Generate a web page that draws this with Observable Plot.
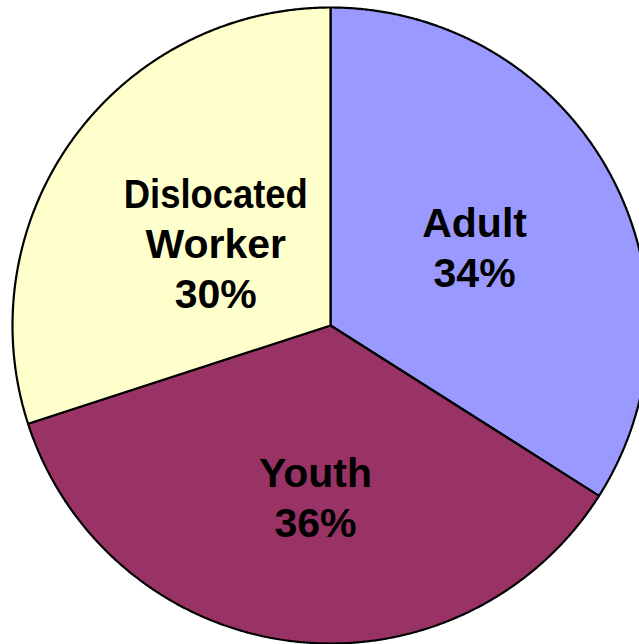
<!DOCTYPE html>
<html>
<head>
<meta charset="utf-8">
<script src="https://cdn.jsdelivr.net/npm/d3@7"></script>
<script src="https://cdn.jsdelivr.net/npm/@observablehq/plot@0.6"></script>
<style>
  html, body { margin: 0; padding: 0; background: #fff; }
  #chart svg { display: block; }
</style>
</head>
<body>
<div id="chart"></div>
<script>
// Data
const categories = ["Adult", "Youth", "Dislocated Worker"];
const labels = ["Adult", "Youth", "Dislocated\nWorker"];
const shares = [34, 36, 30];
const colors = ["#9999FF", "#993366", "#FFFFCC"];

// Layout config
const W = 639, H = 644;
const cx = 330, cy = 325, R = 318;
const labelRadius = [0.517, 0.538, 0.446];
const labelAngleShift = [0, -0.038, 0];

const pie = d3.pie().sort(null).value(d => d.value)(
  categories.map((c, i) => ({ name: c, value: shares[i], label: labels[i] }))
);

// Build slice outlines in unit coordinates (y up)
const slicePts = [];
pie.forEach(p => {
  const n = Math.max(2, Math.ceil((p.endAngle - p.startAngle) / 0.005));
  slicePts.push({ name: p.data.name, x: 0, y: 0 });
  for (let k = 0; k <= n; k++) {
    const a = p.startAngle + (p.endAngle - p.startAngle) * k / n;
    slicePts.push({ name: p.data.name, x: Math.sin(a), y: Math.cos(a) });
  }
});

const labelData = pie.map((p, i) => {
  const a = (p.startAngle + p.endAngle) / 2 + labelAngleShift[i];
  return {
    name: p.data.name,
    text: p.data.label + "\n" + p.data.value + "%",
    x: Math.sin(a) * labelRadius[i],
    y: Math.cos(a) * labelRadius[i]
  };
});

const chart = Plot.plot({
  width: W,
  height: H,
  margin: 0,
  x: { domain: [-cx / R, (W - cx) / R], axis: null },
  y: { domain: [-(H - cy) / R, cy / R], axis: null },
  color: { type: "ordinal", domain: categories, range: colors, legend: false },
  style: { background: "#fff" },
  marks: [
    Plot.line(slicePts, {
      x: "x", y: "y", z: "name", fill: "name",
      stroke: "#000", strokeWidth: 2.2, curve: "linear-closed", strokeLinejoin: "miter"
    }),
    Plot.text(labelData, {
      x: "x", y: "y", text: "text",
      fontFamily: "Liberation Sans, Arial, sans-serif",
      fontWeight: "bold", fontSize: 41, lineHeight: 1.22,
      fill: "#000"
    })
  ]
});
// Slightly condense the "Dislocated" line to match the reference text fit
chart.querySelectorAll("tspan").forEach(t => {
  if (t.textContent === "Dislocated") {
    t.setAttribute("textLength", 184);
    t.setAttribute("lengthAdjust", "spacingAndGlyphs");
  }
});
document.getElementById("chart").appendChild(chart);
</script>
</body>
</html>
